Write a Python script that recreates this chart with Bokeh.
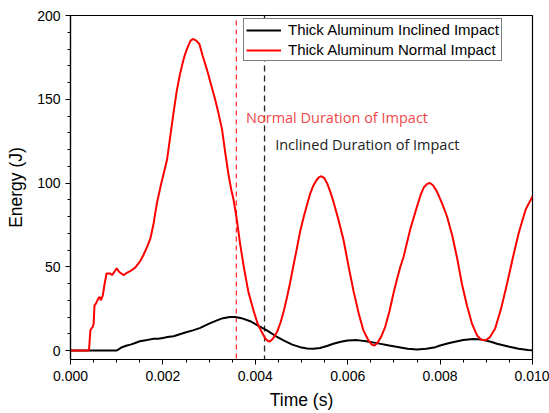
from bokeh.plotting import figure
from bokeh.models import Range1d, FixedTicker, NumeralTickFormatter, Label, Legend, LegendItem
from bokeh.embed import file_html
from bokeh.resources import INLINE

# ---- data (time in s, energy in J) ----
normal_t = [0, 0.0004, 0.00043, 0.00045, 0.00048, 0.0005, 0.00052, 0.00055, 0.0006, 0.00063,
            0.00066, 0.0007, 0.00074, 0.00078, 0.00082, 0.00086, 0.0009, 0.00095, 0.001, 0.00105,
            0.0011, 0.00115, 0.0012, 0.0013, 0.0014, 0.0015, 0.00158, 0.00166, 0.00173, 0.0018,
            0.00187, 0.00195, 0.00202, 0.00209, 0.00216, 0.00223, 0.0023, 0.00237, 0.00243, 0.00248,
            0.00255, 0.0026, 0.00265, 0.00272, 0.00279, 0.00286, 0.00295, 0.00304, 0.00313, 0.0032,
            0.00328, 0.00335, 0.00342, 0.00348, 0.00353, 0.00359, 0.00367, 0.00375, 0.00385, 0.00396,
            0.00405, 0.00414, 0.00422, 0.00428, 0.00432, 0.00438, 0.00447, 0.00455, 0.00462, 0.00468,
            0.00475, 0.00482, 0.0049, 0.00497, 0.00505, 0.00512, 0.00518, 0.00525, 0.00532, 0.00538,
            0.00543, 0.00549, 0.00556, 0.00562, 0.00569, 0.0058, 0.00591, 0.00602, 0.00613, 0.00624,
            0.00634, 0.00645, 0.00652, 0.00658, 0.00664, 0.00672, 0.00681, 0.0069, 0.00699, 0.00707,
            0.00714, 0.00721, 0.00735, 0.0075, 0.00758, 0.00765, 0.00772, 0.00778, 0.00785, 0.00793,
            0.00804, 0.00815, 0.00826, 0.00837, 0.00847, 0.00858, 0.00869, 0.0088, 0.00889, 0.00898,
            0.00908, 0.00919, 0.00932, 0.00945, 0.00958, 0.0097, 0.00985, 0.01]
normal_e = [0, 0, 12, 13, 14, 16, 27, 28, 31, 32,
            30, 33, 40, 46, 46, 46, 45, 47, 49, 47,
            46, 45, 46, 47.5, 49.5, 53, 57, 62, 67, 76,
            88, 98, 106, 114, 128, 142, 155, 165, 172, 177,
            182, 185, 186, 185, 183, 176, 168, 159, 150, 142,
            132, 118, 105, 96, 90, 80, 64, 50, 35, 24,
            16, 11, 7, 5.5, 5.5, 7, 11, 17, 24, 31,
            40, 50, 61, 71, 80, 87, 93, 98, 101.5, 103.5,
            104, 103, 99.5, 95, 89, 78, 66, 50, 35, 22,
            12, 6, 3.5, 3, 4.5, 8, 14, 23, 34, 43,
            50, 56, 72, 86, 93, 97.5, 99.5, 100, 98.5, 95,
            88, 80, 69, 55, 40, 27, 16, 9, 6.5, 6,
            8, 13, 25, 40, 56, 70, 84, 92]

inclined_t = [0, 0.001, 0.00105, 0.0011, 0.00122, 0.0013, 0.0014, 0.0015, 0.0016, 0.0017,
              0.0018, 0.0019, 0.002, 0.0021, 0.00223, 0.0024, 0.00252, 0.00265, 0.00281, 0.003,
              0.00317, 0.0033, 0.00345, 0.00357, 0.0037, 0.00389, 0.00405, 0.00425, 0.00445, 0.00461,
              0.0048, 0.00497, 0.00512, 0.00526, 0.0054, 0.00555, 0.00569, 0.00585, 0.006, 0.0062,
              0.0064, 0.00663, 0.0069, 0.00714, 0.0073, 0.0075, 0.0077, 0.0079, 0.008, 0.0082,
              0.0085, 0.00872, 0.0089, 0.0091, 0.00923, 0.0095, 0.0097, 0.0099, 0.01]
inclined_e = [0, 0, 0.8, 1.8, 3, 3.5, 4.5, 5.5, 6, 6.5,
              7, 7, 7.5, 8, 8.5, 10, 11, 12, 13.5, 16,
              18, 19.3, 20, 20, 19.3, 17.5, 15, 12, 8.5, 6,
              3.5, 2, 1.2, 1, 1.5, 2.7, 4, 5.2, 6, 6.2,
              5.5, 4.4, 3, 1.8, 1, 0.6, 1, 2, 3, 4.5,
              6.3, 6.8, 6.5, 5.2, 4, 2.2, 1, 0.3, 0.2]

normal_duration = 0.00359
inclined_duration = 0.0042

x_ticks = [0, 0.002, 0.004, 0.006, 0.008, 0.010]
y_ticks = [0, 50, 100, 150, 200]

series_labels = ["Thick Aluminum Inclined Impact", "Thick Aluminum Normal Impact"]
annot_labels = ["Normal Duration of Impact", "Inclined Duration of Impact"]

# ---- figure ----
p = figure(width=549, height=413, output_backend="svg", toolbar_location=None,
           x_range=Range1d(0, 0.010), y_range=Range1d(-5.37, 200),
           min_border_left=70, min_border_right=17, min_border_top=15, min_border_bottom=54)
p.background_fill_color = "white"
p.border_fill_color = "white"
p.outline_line_color = "black"
p.outline_line_width = 1.2
p.xgrid.visible = False
p.ygrid.visible = False

# dashed duration lines
p.line([normal_duration, normal_duration], [197, -5.37], line_color="#ff3333",
       line_dash="5 4", line_width=1.3)
p.line([inclined_duration, inclined_duration], [200, -5.37], line_color="#222222",
       line_dash="6 4", line_width=1.3)

r_incl = p.line(inclined_t, inclined_e, line_color="black", line_width=2)
r_norm = p.line(normal_t, normal_e, line_color="#ff0000", line_width=2)

legend = Legend(items=[LegendItem(label=series_labels[0], renderers=[r_incl]),
                       LegendItem(label=series_labels[1], renderers=[r_norm])],
                location=(173, 298), orientation="vertical")
legend.border_line_color = "black"
legend.border_line_width = 1
legend.background_fill_alpha = 1
legend.padding = 2
legend.spacing = 3
legend.margin = 0
legend.glyph_width = 35
legend.glyph_height = 16
legend.label_height = 16
legend.label_standoff = 7
legend.label_text_font = "Liberation Sans"
legend.label_text_font_size = "15px"
legend.label_text_color = "black"
p.add_layout(legend, "center")

p.add_layout(Label(x=0.0038, y=138.9, text=annot_labels[0], text_font="Open Sans",
                   text_font_size="14.5px", text_color="#f04848", text_baseline="alphabetic"))
p.add_layout(Label(x=0.00443, y=123, text=annot_labels[1], text_font="Open Sans",
                   text_font_size="14.5px", text_color="#222222", text_baseline="alphabetic"))

# axes
for ax in (p.xaxis[0], p.yaxis[0]):
    ax.axis_line_color = "black"
    ax.axis_line_width = 1.2
    ax.major_tick_line_color = "black"
    ax.minor_tick_line_color = "black"
    ax.major_tick_in = 0
    ax.major_tick_out = 5
    ax.minor_tick_in = 0
    ax.minor_tick_out = 3
    ax.major_label_text_font = "Liberation Sans"
    ax.major_label_text_font_size = "14px"
    ax.major_label_text_color = "black"
    ax.axis_label_text_font = "Liberation Sans"
    ax.axis_label_text_font_size = "17.5px"
    ax.axis_label_text_font_style = "normal"
    ax.axis_label_text_color = "black"

minor_x = [i * 0.0005 for i in range(21)]
minor_y = [i * 10 for i in range(21)]
p.xaxis[0].ticker = FixedTicker(ticks=x_ticks, minor_ticks=minor_x)
p.yaxis[0].ticker = FixedTicker(ticks=y_ticks, minor_ticks=minor_y)
p.xaxis[0].formatter = NumeralTickFormatter(format="0.000")
p.xaxis[0].axis_label = "Time (s)"
p.yaxis[0].axis_label = "Energy (J)"
p.xaxis[0].major_label_standoff = 6
p.yaxis[0].major_label_standoff = 5
p.xaxis[0].axis_label_standoff = 6
p.yaxis[0].axis_label_standoff = 8

open("out.html", "w").write(file_html(p, INLINE))
